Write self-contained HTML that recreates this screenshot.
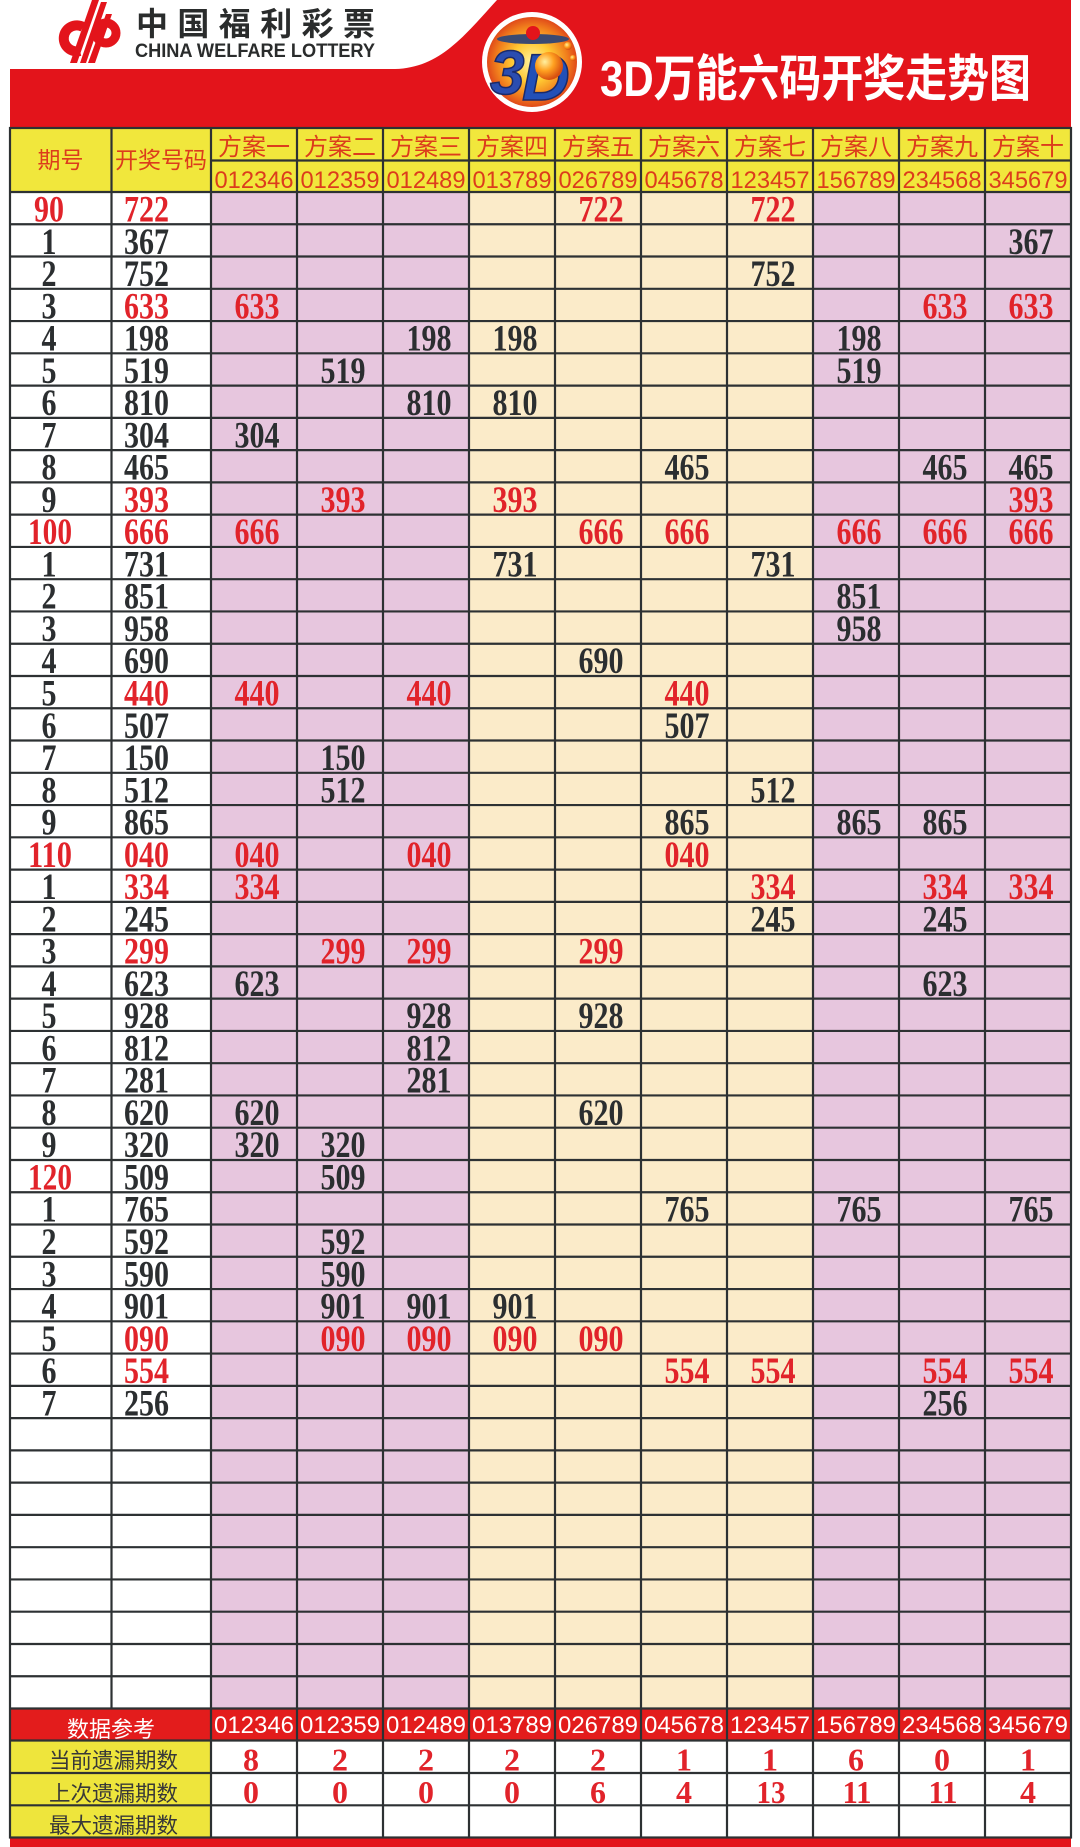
<!DOCTYPE html>
<html><head><meta charset="utf-8">
<style>
html,body{margin:0;padding:0;background:#fff;}
svg{display:block;}
.n{font-family:"Liberation Serif",serif;font-weight:bold;font-size:37px;fill:#2b2e30;text-anchor:middle;}
.r{fill:#e1232a;}
.h{font-family:"Liberation Sans","Noto Sans CJK SC",sans-serif;fill:#dc3c1c;text-anchor:middle;}
.c{font-family:"Liberation Sans",sans-serif;font-size:24px;text-anchor:middle;}
.b{font-family:"Liberation Serif",serif;font-weight:bold;font-size:32px;fill:#e1232a;text-anchor:middle;}
.l{font-family:"Liberation Sans","Noto Sans CJK SC",sans-serif;font-size:21.5px;fill:#383838;text-anchor:middle;}
</style></head>
<body>
<svg width="1080" height="1847" viewBox="0 0 1080 1847" xmlns="http://www.w3.org/2000/svg">
<defs>
<radialGradient id="g3" cx="0.5" cy="0.5" r="0.5">
<stop offset="0" stop-color="#fff3a0"/><stop offset="0.45" stop-color="#ffc832"/><stop offset="0.8" stop-color="#f07c1c"/><stop offset="1" stop-color="#e04a1a"/>
</radialGradient>
<radialGradient id="gb" cx="0.35" cy="0.35" r="0.65">
<stop offset="0" stop-color="#fff0a0"/><stop offset="0.5" stop-color="#ffa020"/><stop offset="1" stop-color="#d85010"/>
</radialGradient>
</defs>
<rect x="0" y="0" width="1080" height="1847" fill="#fff"/>
<!-- red top band -->
<path d="M10,69 L395,69 C440,68 465,35 497,0 L1071,0 L1071,132 L10,132 Z" fill="#e3141b"/>
<!-- cp logo -->
<g fill="none" stroke="#e3141b">
<path d="M83,27 A13,13 0 1 0 80,51" stroke-width="10"/>
<circle cx="106" cy="33" r="10" stroke-width="9"/>
</g>
<g fill="#e3141b">
<polygon points="70,63 77,63 99,0 92,0"/>
<polygon points="80,63 86,63 107,2 101,2"/>
<polygon points="88,63 95,63 112,14 106,14"/>
</g>
<text x="136" y="35" textLength="239" font-family="Noto Sans CJK SC,sans-serif" font-weight="bold" font-size="32" fill="#2a2c2c">中国福利彩票</text>
<text x="135" y="57" textLength="240" lengthAdjust="spacingAndGlyphs" font-family="Liberation Sans,sans-serif" font-weight="bold" font-size="19.5" fill="#2a2c2c">CHINA WELFARE LOTTERY</text>
<!-- 3D logo -->
<circle cx="532" cy="62" r="50" fill="#fff"/>
<circle cx="532" cy="62" r="45" fill="url(#g3)"/>
<ellipse cx="533" cy="39" rx="36" ry="5" fill="#3b4a72"/>
<circle cx="533" cy="33" r="7" fill="#e3141b"/>
<text x="490" y="94" font-family="Liberation Sans,sans-serif" font-weight="bold" font-style="italic" font-size="62" fill="#2a4db0" stroke="#1a2a6a" stroke-width="1.5">3</text>
<text x="522" y="100" font-family="Liberation Sans,sans-serif" font-weight="bold" font-style="italic" font-size="66" fill="#2250b8" stroke="#1a2a6a" stroke-width="1.5">D</text>
<circle cx="549" cy="66" r="14" fill="url(#gb)"/>
<circle cx="568" cy="46" r="4" fill="url(#gb)"/>
<circle cx="573" cy="58" r="3" fill="url(#gb)"/>
<text x="600" y="96" textLength="431" lengthAdjust="spacingAndGlyphs" font-family="Liberation Sans,Noto Sans CJK SC,sans-serif" font-weight="bold" font-size="50" fill="#fff">3D万能六码开奖走势图</text>

<!-- table fills -->
<rect x="10" y="128" width="1061" height="64" fill="#f1e73c"/>
<rect x="10" y="192" width="201" height="1516.5" fill="#fff"/>
<rect x="211" y="192" width="258" height="1516.5" fill="#e7c6de"/>
<rect x="469" y="192" width="344" height="1516.5" fill="#fbebc9"/>
<rect x="813" y="192" width="258" height="1516.5" fill="#e7c6de"/>
<rect x="10" y="1708.5" width="1061" height="32" fill="#e31c1c"/>
<rect x="10" y="1740.5" width="201" height="97" fill="#eee53c"/>
<rect x="211" y="1740.5" width="860" height="97" fill="#fff"/>
<rect x="10" y="1838.5" width="1061" height="8.5" fill="#e3141b"/>

<!-- grid -->
<g stroke="#2d3133" stroke-width="2.2" fill="none">
<path d="M211 160.5H1071M10 192H1071M10 224.27H1071M10 256.53H1071M10 288.8H1071M10 321.06H1071M10 353.33H1071M10 385.6H1071M10 417.86H1071M10 450.13H1071M10 482.39H1071M10 514.66H1071M10 546.93H1071M10 579.19H1071M10 611.46H1071M10 643.72H1071M10 675.99H1071M10 708.26H1071M10 740.52H1071M10 772.79H1071M10 805.05H1071M10 837.32H1071M10 869.59H1071M10 901.85H1071M10 934.12H1071M10 966.38H1071M10 998.65H1071M10 1030.92H1071M10 1063.18H1071M10 1095.45H1071M10 1127.71H1071M10 1159.98H1071M10 1192.25H1071M10 1224.51H1071M10 1256.78H1071M10 1289.04H1071M10 1321.31H1071M10 1353.58H1071M10 1385.84H1071M10 1418.11H1071M10 1450.37H1071M10 1482.64H1071M10 1514.91H1071M10 1547.17H1071M10 1579.44H1071M10 1611.7H1071M10 1643.97H1071M10 1676.24H1071M10 1708.5H1071M10 1740.5H1071M10 1773H1071M10 1805.3H1071"/>
<path d="M111.5 128V1708.5M211 128V1837.5M297 128V1837.5M383 128V1837.5M469 128V1837.5M555 128V1837.5M641 128V1837.5M727 128V1837.5M813 128V1837.5M899 128V1837.5M985 128V1837.5"/>
<rect x="10" y="128" width="1061" height="1709.5"/>
</g>

<!-- header text -->
<text class="h" x="60.5" y="168" font-size="23">期号</text>
<text class="h" x="161" y="168" font-size="23">开奖号码</text>
<g class="h" font-size="24">
<text x="254" y="155">方案一</text><text x="340" y="155">方案二</text><text x="426" y="155">方案三</text><text x="512" y="155">方案四</text><text x="598" y="155">方案五</text><text x="684" y="155">方案六</text><text x="770" y="155">方案七</text><text x="856" y="155">方案八</text><text x="942" y="155">方案九</text><text x="1028" y="155">方案十</text>
</g>
<g class="c" fill="#dc3c1c">
<text x="254" y="188" textLength="79" lengthAdjust="spacingAndGlyphs">012346</text><text x="340" y="188" textLength="79" lengthAdjust="spacingAndGlyphs">012359</text><text x="426" y="188" textLength="79" lengthAdjust="spacingAndGlyphs">012489</text><text x="512" y="188" textLength="79" lengthAdjust="spacingAndGlyphs">013789</text><text x="598" y="188" textLength="79" lengthAdjust="spacingAndGlyphs">026789</text><text x="684" y="188" textLength="79" lengthAdjust="spacingAndGlyphs">045678</text><text x="770" y="188" textLength="79" lengthAdjust="spacingAndGlyphs">123457</text><text x="856" y="188" textLength="79" lengthAdjust="spacingAndGlyphs">156789</text><text x="942" y="188" textLength="79" lengthAdjust="spacingAndGlyphs">234568</text><text x="1028" y="188" textLength="79" lengthAdjust="spacingAndGlyphs">345679</text>
</g>

<!-- data -->
<g>
<!-- r0 -->
<text class="n r" x="49" y="221.5" textLength="30" lengthAdjust="spacingAndGlyphs">90</text><text class="n r" x="146.5" y="221.5" textLength="45" lengthAdjust="spacingAndGlyphs">722</text>
<text class="n r" x="601" y="221.5" textLength="45" lengthAdjust="spacingAndGlyphs">722</text><text class="n r" x="773" y="221.5" textLength="45" lengthAdjust="spacingAndGlyphs">722</text>
<!-- r1 -->
<text class="n" x="49" y="253.8" textLength="15" lengthAdjust="spacingAndGlyphs">1</text><text class="n" x="146.5" y="253.8" textLength="45" lengthAdjust="spacingAndGlyphs">367</text>
<text class="n" x="1031" y="253.8" textLength="45" lengthAdjust="spacingAndGlyphs">367</text>
<!-- r2 -->
<text class="n" x="49" y="286" textLength="15" lengthAdjust="spacingAndGlyphs">2</text><text class="n" x="146.5" y="286" textLength="45" lengthAdjust="spacingAndGlyphs">752</text>
<text class="n" x="773" y="286" textLength="45" lengthAdjust="spacingAndGlyphs">752</text>
<!-- r3 -->
<text class="n" x="49" y="318.3" textLength="15" lengthAdjust="spacingAndGlyphs">3</text><text class="n r" x="146.5" y="318.3" textLength="45" lengthAdjust="spacingAndGlyphs">633</text>
<text class="n r" x="257" y="318.3" textLength="45" lengthAdjust="spacingAndGlyphs">633</text><text class="n r" x="945" y="318.3" textLength="45" lengthAdjust="spacingAndGlyphs">633</text><text class="n r" x="1031" y="318.3" textLength="45" lengthAdjust="spacingAndGlyphs">633</text>
<!-- r4 -->
<text class="n" x="49" y="350.6" textLength="15" lengthAdjust="spacingAndGlyphs">4</text><text class="n" x="146.5" y="350.6" textLength="45" lengthAdjust="spacingAndGlyphs">198</text>
<text class="n" x="429" y="350.6" textLength="45" lengthAdjust="spacingAndGlyphs">198</text><text class="n" x="515" y="350.6" textLength="45" lengthAdjust="spacingAndGlyphs">198</text><text class="n" x="859" y="350.6" textLength="45" lengthAdjust="spacingAndGlyphs">198</text>
<!-- r5 -->
<text class="n" x="49" y="382.8" textLength="15" lengthAdjust="spacingAndGlyphs">5</text><text class="n" x="146.5" y="382.8" textLength="45" lengthAdjust="spacingAndGlyphs">519</text>
<text class="n" x="343" y="382.8" textLength="45" lengthAdjust="spacingAndGlyphs">519</text><text class="n" x="859" y="382.8" textLength="45" lengthAdjust="spacingAndGlyphs">519</text>
<!-- r6 -->
<text class="n" x="49" y="415.1" textLength="15" lengthAdjust="spacingAndGlyphs">6</text><text class="n" x="146.5" y="415.1" textLength="45" lengthAdjust="spacingAndGlyphs">810</text>
<text class="n" x="429" y="415.1" textLength="45" lengthAdjust="spacingAndGlyphs">810</text><text class="n" x="515" y="415.1" textLength="45" lengthAdjust="spacingAndGlyphs">810</text>
<!-- r7 -->
<text class="n" x="49" y="447.4" textLength="15" lengthAdjust="spacingAndGlyphs">7</text><text class="n" x="146.5" y="447.4" textLength="45" lengthAdjust="spacingAndGlyphs">304</text>
<text class="n" x="257" y="447.4" textLength="45" lengthAdjust="spacingAndGlyphs">304</text>
<!-- r8 -->
<text class="n" x="49" y="479.6" textLength="15" lengthAdjust="spacingAndGlyphs">8</text><text class="n" x="146.5" y="479.6" textLength="45" lengthAdjust="spacingAndGlyphs">465</text>
<text class="n" x="687" y="479.6" textLength="45" lengthAdjust="spacingAndGlyphs">465</text><text class="n" x="945" y="479.6" textLength="45" lengthAdjust="spacingAndGlyphs">465</text><text class="n" x="1031" y="479.6" textLength="45" lengthAdjust="spacingAndGlyphs">465</text>
<!-- r9 -->
<text class="n" x="49" y="511.9" textLength="15" lengthAdjust="spacingAndGlyphs">9</text><text class="n r" x="146.5" y="511.9" textLength="45" lengthAdjust="spacingAndGlyphs">393</text>
<text class="n r" x="343" y="511.9" textLength="45" lengthAdjust="spacingAndGlyphs">393</text><text class="n r" x="515" y="511.9" textLength="45" lengthAdjust="spacingAndGlyphs">393</text><text class="n r" x="1031" y="511.9" textLength="45" lengthAdjust="spacingAndGlyphs">393</text>
<!-- r10 -->
<text class="n r" x="50" y="544.2" textLength="44" lengthAdjust="spacingAndGlyphs">100</text><text class="n r" x="146.5" y="544.2" textLength="45" lengthAdjust="spacingAndGlyphs">666</text>
<text class="n r" x="257" y="544.2" textLength="45" lengthAdjust="spacingAndGlyphs">666</text><text class="n r" x="601" y="544.2" textLength="45" lengthAdjust="spacingAndGlyphs">666</text><text class="n r" x="687" y="544.2" textLength="45" lengthAdjust="spacingAndGlyphs">666</text><text class="n r" x="859" y="544.2" textLength="45" lengthAdjust="spacingAndGlyphs">666</text><text class="n r" x="945" y="544.2" textLength="45" lengthAdjust="spacingAndGlyphs">666</text><text class="n r" x="1031" y="544.2" textLength="45" lengthAdjust="spacingAndGlyphs">666</text>
<!-- r11 -->
<text class="n" x="49" y="576.4" textLength="15" lengthAdjust="spacingAndGlyphs">1</text><text class="n" x="146.5" y="576.4" textLength="45" lengthAdjust="spacingAndGlyphs">731</text>
<text class="n" x="515" y="576.4" textLength="45" lengthAdjust="spacingAndGlyphs">731</text><text class="n" x="773" y="576.4" textLength="45" lengthAdjust="spacingAndGlyphs">731</text>
<!-- r12 -->
<text class="n" x="49" y="608.7" textLength="15" lengthAdjust="spacingAndGlyphs">2</text><text class="n" x="146.5" y="608.7" textLength="45" lengthAdjust="spacingAndGlyphs">851</text>
<text class="n" x="859" y="608.7" textLength="45" lengthAdjust="spacingAndGlyphs">851</text>
<!-- r13 -->
<text class="n" x="49" y="641" textLength="15" lengthAdjust="spacingAndGlyphs">3</text><text class="n" x="146.5" y="641" textLength="45" lengthAdjust="spacingAndGlyphs">958</text>
<text class="n" x="859" y="641" textLength="45" lengthAdjust="spacingAndGlyphs">958</text>
<!-- r14 -->
<text class="n" x="49" y="673.2" textLength="15" lengthAdjust="spacingAndGlyphs">4</text><text class="n" x="146.5" y="673.2" textLength="45" lengthAdjust="spacingAndGlyphs">690</text>
<text class="n" x="601" y="673.2" textLength="45" lengthAdjust="spacingAndGlyphs">690</text>
<!-- r15 -->
<text class="n" x="49" y="705.5" textLength="15" lengthAdjust="spacingAndGlyphs">5</text><text class="n r" x="146.5" y="705.5" textLength="45" lengthAdjust="spacingAndGlyphs">440</text>
<text class="n r" x="257" y="705.5" textLength="45" lengthAdjust="spacingAndGlyphs">440</text><text class="n r" x="429" y="705.5" textLength="45" lengthAdjust="spacingAndGlyphs">440</text><text class="n r" x="687" y="705.5" textLength="45" lengthAdjust="spacingAndGlyphs">440</text>
<!-- r16 -->
<text class="n" x="49" y="737.8" textLength="15" lengthAdjust="spacingAndGlyphs">6</text><text class="n" x="146.5" y="737.8" textLength="45" lengthAdjust="spacingAndGlyphs">507</text>
<text class="n" x="687" y="737.8" textLength="45" lengthAdjust="spacingAndGlyphs">507</text>
<!-- r17 -->
<text class="n" x="49" y="770" textLength="15" lengthAdjust="spacingAndGlyphs">7</text><text class="n" x="146.5" y="770" textLength="45" lengthAdjust="spacingAndGlyphs">150</text>
<text class="n" x="343" y="770" textLength="45" lengthAdjust="spacingAndGlyphs">150</text>
<!-- r18 -->
<text class="n" x="49" y="802.3" textLength="15" lengthAdjust="spacingAndGlyphs">8</text><text class="n" x="146.5" y="802.3" textLength="45" lengthAdjust="spacingAndGlyphs">512</text>
<text class="n" x="343" y="802.3" textLength="45" lengthAdjust="spacingAndGlyphs">512</text><text class="n" x="773" y="802.3" textLength="45" lengthAdjust="spacingAndGlyphs">512</text>
<!-- r19 -->
<text class="n" x="49" y="834.6" textLength="15" lengthAdjust="spacingAndGlyphs">9</text><text class="n" x="146.5" y="834.6" textLength="45" lengthAdjust="spacingAndGlyphs">865</text>
<text class="n" x="687" y="834.6" textLength="45" lengthAdjust="spacingAndGlyphs">865</text><text class="n" x="859" y="834.6" textLength="45" lengthAdjust="spacingAndGlyphs">865</text><text class="n" x="945" y="834.6" textLength="45" lengthAdjust="spacingAndGlyphs">865</text>
<!-- r20 -->
<text class="n r" x="50" y="866.8" textLength="44" lengthAdjust="spacingAndGlyphs">110</text><text class="n r" x="146.5" y="866.8" textLength="45" lengthAdjust="spacingAndGlyphs">040</text>
<text class="n r" x="257" y="866.8" textLength="45" lengthAdjust="spacingAndGlyphs">040</text><text class="n r" x="429" y="866.8" textLength="45" lengthAdjust="spacingAndGlyphs">040</text><text class="n r" x="687" y="866.8" textLength="45" lengthAdjust="spacingAndGlyphs">040</text>
<!-- r21 -->
<text class="n" x="49" y="899.1" textLength="15" lengthAdjust="spacingAndGlyphs">1</text><text class="n r" x="146.5" y="899.1" textLength="45" lengthAdjust="spacingAndGlyphs">334</text>
<text class="n r" x="257" y="899.1" textLength="45" lengthAdjust="spacingAndGlyphs">334</text><text class="n r" x="773" y="899.1" textLength="45" lengthAdjust="spacingAndGlyphs">334</text><text class="n r" x="945" y="899.1" textLength="45" lengthAdjust="spacingAndGlyphs">334</text><text class="n r" x="1031" y="899.1" textLength="45" lengthAdjust="spacingAndGlyphs">334</text>
<!-- r22 -->
<text class="n" x="49" y="931.4" textLength="15" lengthAdjust="spacingAndGlyphs">2</text><text class="n" x="146.5" y="931.4" textLength="45" lengthAdjust="spacingAndGlyphs">245</text>
<text class="n" x="773" y="931.4" textLength="45" lengthAdjust="spacingAndGlyphs">245</text><text class="n" x="945" y="931.4" textLength="45" lengthAdjust="spacingAndGlyphs">245</text>
<!-- r23 -->
<text class="n" x="49" y="963.6" textLength="15" lengthAdjust="spacingAndGlyphs">3</text><text class="n r" x="146.5" y="963.6" textLength="45" lengthAdjust="spacingAndGlyphs">299</text>
<text class="n r" x="343" y="963.6" textLength="45" lengthAdjust="spacingAndGlyphs">299</text><text class="n r" x="429" y="963.6" textLength="45" lengthAdjust="spacingAndGlyphs">299</text><text class="n r" x="601" y="963.6" textLength="45" lengthAdjust="spacingAndGlyphs">299</text>
<!-- r24 -->
<text class="n" x="49" y="995.9" textLength="15" lengthAdjust="spacingAndGlyphs">4</text><text class="n" x="146.5" y="995.9" textLength="45" lengthAdjust="spacingAndGlyphs">623</text>
<text class="n" x="257" y="995.9" textLength="45" lengthAdjust="spacingAndGlyphs">623</text><text class="n" x="945" y="995.9" textLength="45" lengthAdjust="spacingAndGlyphs">623</text>
<!-- r25 -->
<text class="n" x="49" y="1028.2" textLength="15" lengthAdjust="spacingAndGlyphs">5</text><text class="n" x="146.5" y="1028.2" textLength="45" lengthAdjust="spacingAndGlyphs">928</text>
<text class="n" x="429" y="1028.2" textLength="45" lengthAdjust="spacingAndGlyphs">928</text><text class="n" x="601" y="1028.2" textLength="45" lengthAdjust="spacingAndGlyphs">928</text>
<!-- r26 -->
<text class="n" x="49" y="1060.4" textLength="15" lengthAdjust="spacingAndGlyphs">6</text><text class="n" x="146.5" y="1060.4" textLength="45" lengthAdjust="spacingAndGlyphs">812</text>
<text class="n" x="429" y="1060.4" textLength="45" lengthAdjust="spacingAndGlyphs">812</text>
<!-- r27 -->
<text class="n" x="49" y="1092.7" textLength="15" lengthAdjust="spacingAndGlyphs">7</text><text class="n" x="146.5" y="1092.7" textLength="45" lengthAdjust="spacingAndGlyphs">281</text>
<text class="n" x="429" y="1092.7" textLength="45" lengthAdjust="spacingAndGlyphs">281</text>
<!-- r28 -->
<text class="n" x="49" y="1125" textLength="15" lengthAdjust="spacingAndGlyphs">8</text><text class="n" x="146.5" y="1125" textLength="45" lengthAdjust="spacingAndGlyphs">620</text>
<text class="n" x="257" y="1125" textLength="45" lengthAdjust="spacingAndGlyphs">620</text><text class="n" x="601" y="1125" textLength="45" lengthAdjust="spacingAndGlyphs">620</text>
<!-- r29 -->
<text class="n" x="49" y="1157.2" textLength="15" lengthAdjust="spacingAndGlyphs">9</text><text class="n" x="146.5" y="1157.2" textLength="45" lengthAdjust="spacingAndGlyphs">320</text>
<text class="n" x="257" y="1157.2" textLength="45" lengthAdjust="spacingAndGlyphs">320</text><text class="n" x="343" y="1157.2" textLength="45" lengthAdjust="spacingAndGlyphs">320</text>
<!-- r30 -->
<text class="n r" x="50" y="1189.5" textLength="44" lengthAdjust="spacingAndGlyphs">120</text><text class="n" x="146.5" y="1189.5" textLength="45" lengthAdjust="spacingAndGlyphs">509</text>
<text class="n" x="343" y="1189.5" textLength="45" lengthAdjust="spacingAndGlyphs">509</text>
<!-- r31 -->
<text class="n" x="49" y="1221.7" textLength="15" lengthAdjust="spacingAndGlyphs">1</text><text class="n" x="146.5" y="1221.7" textLength="45" lengthAdjust="spacingAndGlyphs">765</text>
<text class="n" x="687" y="1221.7" textLength="45" lengthAdjust="spacingAndGlyphs">765</text><text class="n" x="859" y="1221.7" textLength="45" lengthAdjust="spacingAndGlyphs">765</text><text class="n" x="1031" y="1221.7" textLength="45" lengthAdjust="spacingAndGlyphs">765</text>
<!-- r32 -->
<text class="n" x="49" y="1254" textLength="15" lengthAdjust="spacingAndGlyphs">2</text><text class="n" x="146.5" y="1254" textLength="45" lengthAdjust="spacingAndGlyphs">592</text>
<text class="n" x="343" y="1254" textLength="45" lengthAdjust="spacingAndGlyphs">592</text>
<!-- r33 -->
<text class="n" x="49" y="1286.3" textLength="15" lengthAdjust="spacingAndGlyphs">3</text><text class="n" x="146.5" y="1286.3" textLength="45" lengthAdjust="spacingAndGlyphs">590</text>
<text class="n" x="343" y="1286.3" textLength="45" lengthAdjust="spacingAndGlyphs">590</text>
<!-- r34 -->
<text class="n" x="49" y="1318.5" textLength="15" lengthAdjust="spacingAndGlyphs">4</text><text class="n" x="146.5" y="1318.5" textLength="45" lengthAdjust="spacingAndGlyphs">901</text>
<text class="n" x="343" y="1318.5" textLength="45" lengthAdjust="spacingAndGlyphs">901</text><text class="n" x="429" y="1318.5" textLength="45" lengthAdjust="spacingAndGlyphs">901</text><text class="n" x="515" y="1318.5" textLength="45" lengthAdjust="spacingAndGlyphs">901</text>
<!-- r35 -->
<text class="n" x="49" y="1350.8" textLength="15" lengthAdjust="spacingAndGlyphs">5</text><text class="n r" x="146.5" y="1350.8" textLength="45" lengthAdjust="spacingAndGlyphs">090</text>
<text class="n r" x="343" y="1350.8" textLength="45" lengthAdjust="spacingAndGlyphs">090</text><text class="n r" x="429" y="1350.8" textLength="45" lengthAdjust="spacingAndGlyphs">090</text><text class="n r" x="515" y="1350.8" textLength="45" lengthAdjust="spacingAndGlyphs">090</text><text class="n r" x="601" y="1350.8" textLength="45" lengthAdjust="spacingAndGlyphs">090</text>
<!-- r36 -->
<text class="n" x="49" y="1383.1" textLength="15" lengthAdjust="spacingAndGlyphs">6</text><text class="n r" x="146.5" y="1383.1" textLength="45" lengthAdjust="spacingAndGlyphs">554</text>
<text class="n r" x="687" y="1383.1" textLength="45" lengthAdjust="spacingAndGlyphs">554</text><text class="n r" x="773" y="1383.1" textLength="45" lengthAdjust="spacingAndGlyphs">554</text><text class="n r" x="945" y="1383.1" textLength="45" lengthAdjust="spacingAndGlyphs">554</text><text class="n r" x="1031" y="1383.1" textLength="45" lengthAdjust="spacingAndGlyphs">554</text>
<!-- r37 -->
<text class="n" x="49" y="1415.3" textLength="15" lengthAdjust="spacingAndGlyphs">7</text><text class="n" x="146.5" y="1415.3" textLength="45" lengthAdjust="spacingAndGlyphs">256</text>
<text class="n" x="945" y="1415.3" textLength="45" lengthAdjust="spacingAndGlyphs">256</text>
</g>

<!-- bottom section -->
<text x="111" y="1737" font-family="Liberation Sans,Noto Sans CJK SC,sans-serif" font-size="22" fill="#fff" text-anchor="middle">数据参考</text>
<g class="c" fill="#fff">
<text x="254" y="1733" textLength="80" lengthAdjust="spacingAndGlyphs">012346</text><text x="340" y="1733" textLength="80" lengthAdjust="spacingAndGlyphs">012359</text><text x="426" y="1733" textLength="80" lengthAdjust="spacingAndGlyphs">012489</text><text x="512" y="1733" textLength="80" lengthAdjust="spacingAndGlyphs">013789</text><text x="598" y="1733" textLength="80" lengthAdjust="spacingAndGlyphs">026789</text><text x="684" y="1733" textLength="80" lengthAdjust="spacingAndGlyphs">045678</text><text x="770" y="1733" textLength="80" lengthAdjust="spacingAndGlyphs">123457</text><text x="856" y="1733" textLength="80" lengthAdjust="spacingAndGlyphs">156789</text><text x="942" y="1733" textLength="80" lengthAdjust="spacingAndGlyphs">234568</text><text x="1028" y="1733" textLength="80" lengthAdjust="spacingAndGlyphs">345679</text>
</g>
<text class="l" x="113.5" y="1768">当前遗漏期数</text>
<text class="l" x="113.5" y="1801">上次遗漏期数</text>
<text class="l" x="113.5" y="1833">最大遗漏期数</text>
<g>
<text class="b" x="251" y="1770.5" textLength="16" lengthAdjust="spacingAndGlyphs">8</text>
<text class="b" x="340" y="1770.5" textLength="16" lengthAdjust="spacingAndGlyphs">2</text>
<text class="b" x="426" y="1770.5" textLength="16" lengthAdjust="spacingAndGlyphs">2</text>
<text class="b" x="512" y="1770.5" textLength="16" lengthAdjust="spacingAndGlyphs">2</text>
<text class="b" x="598" y="1770.5" textLength="16" lengthAdjust="spacingAndGlyphs">2</text>
<text class="b" x="684" y="1770.5" textLength="16" lengthAdjust="spacingAndGlyphs">1</text>
<text class="b" x="770" y="1770.5" textLength="16" lengthAdjust="spacingAndGlyphs">1</text>
<text class="b" x="856" y="1770.5" textLength="16" lengthAdjust="spacingAndGlyphs">6</text>
<text class="b" x="942" y="1770.5" textLength="16" lengthAdjust="spacingAndGlyphs">0</text>
<text class="b" x="1028" y="1770.5" textLength="16" lengthAdjust="spacingAndGlyphs">1</text>
<text class="b" x="251" y="1803" textLength="16" lengthAdjust="spacingAndGlyphs">0</text>
<text class="b" x="340" y="1803" textLength="16" lengthAdjust="spacingAndGlyphs">0</text>
<text class="b" x="426" y="1803" textLength="16" lengthAdjust="spacingAndGlyphs">0</text>
<text class="b" x="512" y="1803" textLength="16" lengthAdjust="spacingAndGlyphs">0</text>
<text class="b" x="598" y="1803" textLength="16" lengthAdjust="spacingAndGlyphs">6</text>
<text class="b" x="684" y="1803" textLength="16" lengthAdjust="spacingAndGlyphs">4</text>
<text class="b" x="771" y="1803" textLength="29" lengthAdjust="spacingAndGlyphs">13</text>
<text class="b" x="857" y="1803" textLength="29" lengthAdjust="spacingAndGlyphs">11</text>
<text class="b" x="943" y="1803" textLength="29" lengthAdjust="spacingAndGlyphs">11</text>
<text class="b" x="1028" y="1803" textLength="16" lengthAdjust="spacingAndGlyphs">4</text>
</g>
</svg>
</body></html>
